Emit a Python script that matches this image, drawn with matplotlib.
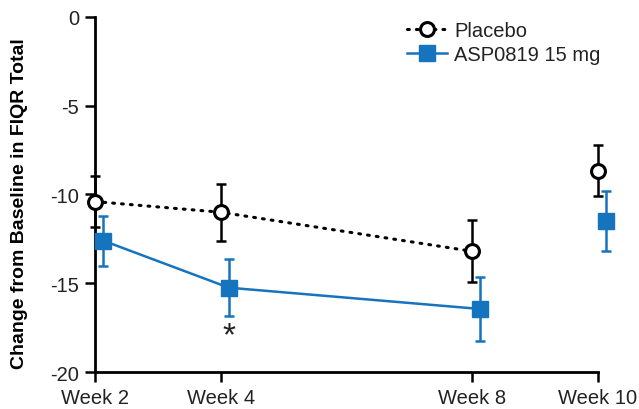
import matplotlib
matplotlib.use("Agg")
import matplotlib.pyplot as plt
import numpy as np

plt.rcParams['font.family'] = ['Liberation Sans', 'DejaVu Sans']

# data
weeks = [2, 4, 8, 10]
week_labels = ['Week 2', 'Week 4', 'Week 8', 'Week 10']
placebo = [-10.4, -11.0, -13.2, -8.65]
placebo_err = [1.45, 1.6, 1.75, 1.45]
asp = [-12.6, -15.25, -16.45, -11.5]
asp_err = [1.4, 1.6, 1.8, 1.7]
asp_shift = 0.13  # drug group drawn a bit right of the visit

blue = '#1673bd'
txt = '#222222'
dots = (0, (0.6, 2.3))

fig = plt.figure(figsize=(6.39, 4.10), dpi=100)
ax = fig.add_axes([0.1487, 0.0902, 0.787, 0.866])

wk = np.array(weeks, dtype=float)
wa = wk + asp_shift

# placebo: weeks 2-8 joined, week 10 alone
ax.errorbar(wk, placebo, yerr=placebo_err, fmt='none', ecolor='black',
            elinewidth=1.8, capsize=3.8, capthick=1.8, clip_on=False, zorder=3)
ax.plot(wk[:3], placebo[:3], color='black', ls=dots, lw=2.2,
        dash_capstyle='round', zorder=2)
ax.plot(wk, placebo, ls='none', marker='o', ms=10, mfc='white', mec='black',
        mew=2.2, clip_on=False, zorder=4)

# ASP0819
ax.errorbar(wa, asp, yerr=asp_err, fmt='none', ecolor=blue,
            elinewidth=1.8, capsize=3.8, capthick=1.8, clip_on=False, zorder=3)
ax.plot(wa[:3], asp[:3], color=blue, lw=1.8, zorder=2)
ax.plot(wa, asp, ls='none', marker='s', ms=11, mfc=blue, mec=blue,
        clip_on=False, zorder=4)

# significance mark
ax.text(wa[1], asp[1] - asp_err[1] - 0.25, '*', ha='center', va='top',
        fontsize=24, color=txt)

# legend handles
lp, = ax.plot([], [], color='black', ls=dots, lw=2.2, dash_capstyle='round',
              marker='o', ms=10, mfc='white', mec='black', mew=2.2)
la, = ax.plot([], [], color=blue, lw=1.8, marker='s', ms=11, mfc=blue, mec=blue)
leg = ax.legend([lp, la], ['Placebo', 'ASP0819 15 mg'], loc='upper left',
                bbox_to_anchor=(0.62, 0.988), frameon=False, fontsize=14.5,
                borderpad=0, borderaxespad=0,
                handlelength=2.0, handletextpad=0.35, labelspacing=0.22)
for t in leg.get_texts():
    t.set_color(txt)

ax.set_xlim(2, 10)
ax.set_ylim(-20, 0)
ax.set_xticks(weeks)
ax.set_xticklabels(week_labels)
ax.set_yticks([0, -5, -10, -15, -20])
ax.set_yticklabels(['0', '-5', '-10', '-15', '-20'])
ax.tick_params(direction='out', length=7.5, width=1.8, labelsize=14.5,
               colors='black', labelcolor=txt)
ax.tick_params(axis='x', pad=4)
ax.tick_params(axis='y', pad=4)
for s in ['top', 'right']:
    ax.spines[s].set_visible(False)
for s in ['left', 'bottom']:
    ax.spines[s].set_linewidth(2)

ax.set_ylabel('Change from Baseline in FIQR Total', fontsize=14, fontweight='bold')
ax.yaxis.set_label_coords(-0.134, 0.476)

fig.savefig('out.png', dpi=100)
